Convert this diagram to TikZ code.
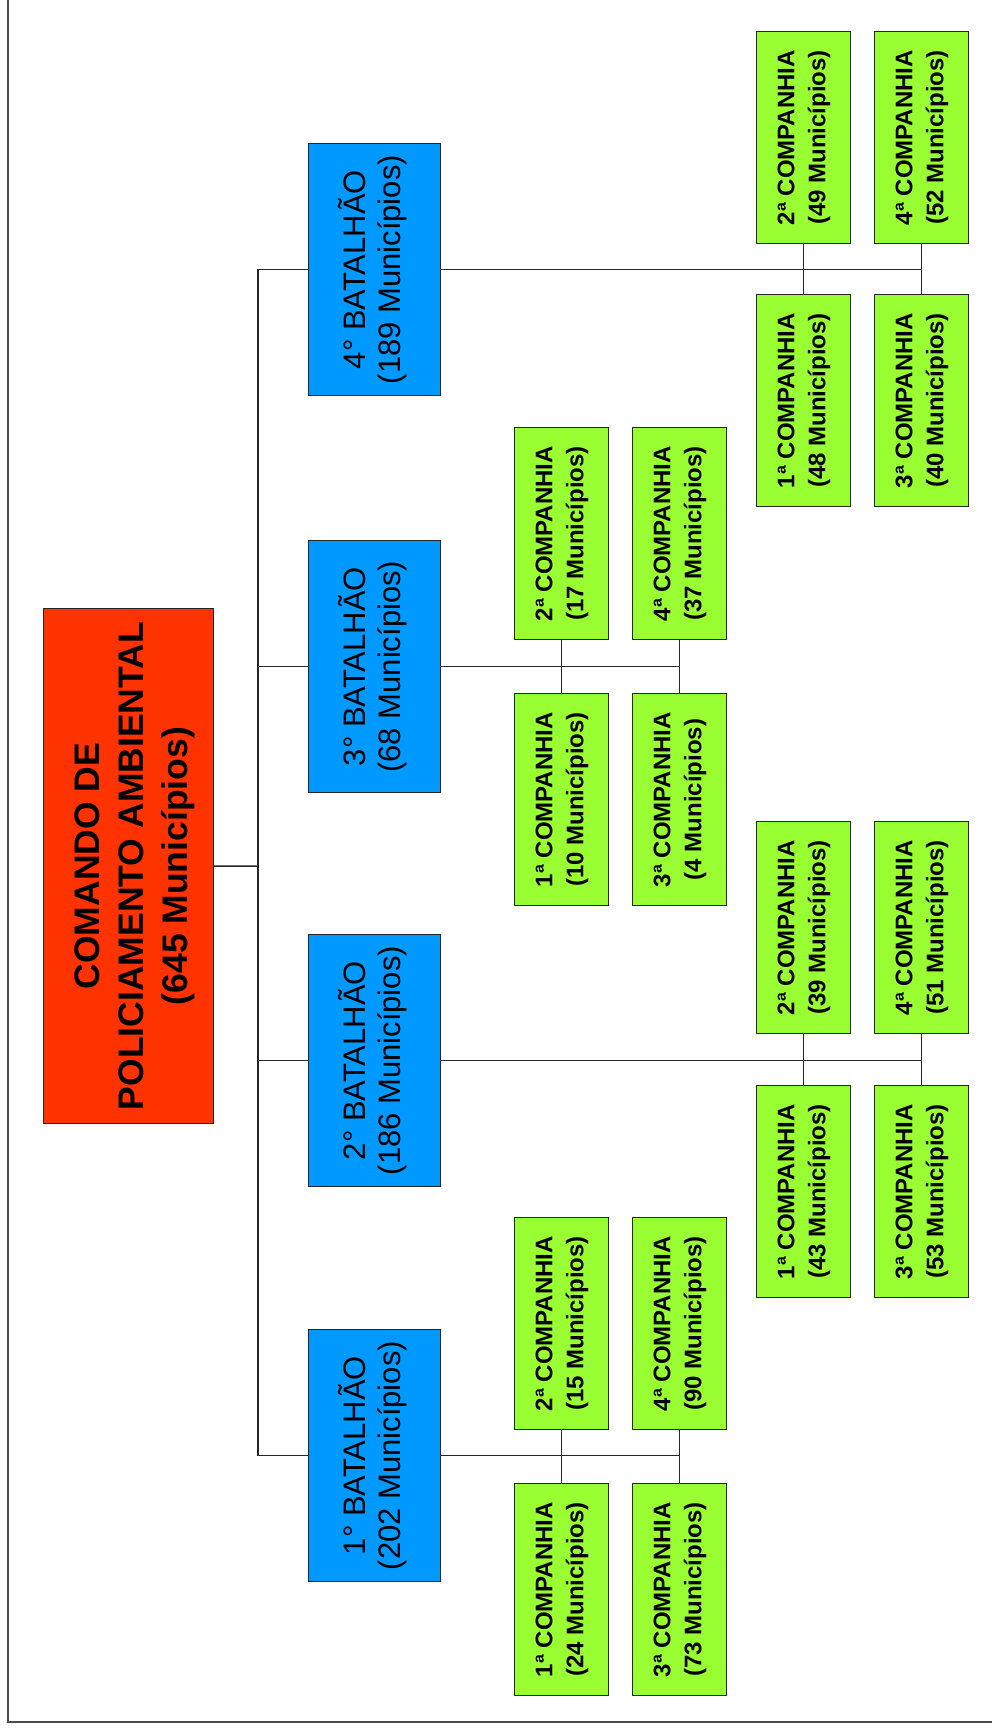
\documentclass[tikz,border=0pt]{standalone}
\usepackage{fontspec}
\setmainfont{Liberation Sans}
\definecolor{cmdred}{HTML}{FF3300}
\definecolor{batblue}{HTML}{0099FF}
\definecolor{compgreen}{HTML}{99FF33}
\definecolor{edge}{HTML}{262626}
\newcommand{\vlab}[4]{\rotatebox{90}{\fontsize{#1}{#2}\selectfont#3\begin{tabular}{@{}c@{}}#4\end{tabular}}}
\newcommand{\cmdtxt}[1]{\hspace*{12pt}\vlab{35.5}{44}{\bfseries}{#1}}
\newcommand{\battxt}[1]{\vlab{31}{35.5}{}{#1}}
\newcommand{\comptxt}[1]{\vlab{24}{31}{\bfseries}{#1}}
\tikzset{
  box/.style={draw=edge, line width=1.2pt, inner sep=0pt, anchor=north west},
  cmdbox/.style={box, fill=cmdred, minimum width=170pt, minimum height=515pt},
  batbox/.style={box, fill=batblue, minimum width=132pt, minimum height=252pt},
  compbox/.style={box, fill=compgreen, minimum width=94pt, minimum height=212pt},
  link/.style={draw=edge, line width=1.5pt},
  frameline/.style={draw=black!70, line width=1.8pt}
}
\begin{document}
\begin{tikzpicture}[x=1pt, y=-1pt]
\fill[white] (0,0) rectangle (992,1731);
\useasboundingbox (0,0) rectangle (992,1731);
\draw[frameline] (8,-5) -- (8,1722) -- (1000,1722);

% command
\node[cmdbox] (cmd) at (43,608) {\cmdtxt{COMANDO DE\\POLICIAMENTO AMBIENTAL\\(645 Municípios)}};

% battalions
\node[batbox] (b4) at (308,143) {\battxt{4° BATALHÃO\\(189 Municípios)}};
\node[batbox] (b3) at (308,540) {\battxt{3° BATALHÃO\\(68 Municípios)}};
\node[batbox] (b2) at (308,934) {\battxt{2° BATALHÃO\\(186 Municípios)}};
\node[batbox] (b1) at (308,1329) {\battxt{1° BATALHÃO\\(202 Municípios)}};

% companies of 4th battalion
\node[compbox] (g4c2) at (756,31) {\comptxt{2ª COMPANHIA\\(49 Municípios)}};
\node[compbox] (g4c1) at (756,294) {\comptxt{1ª COMPANHIA\\(48 Municípios)}};
\node[compbox] (g4c4) at (874,31) {\comptxt{4ª COMPANHIA\\(52 Municípios)}};
\node[compbox] (g4c3) at (874,294) {\comptxt{3ª COMPANHIA\\(40 Municípios)}};

% companies of 3rd battalion
\node[compbox] (g3c2) at (514,427) {\comptxt{2ª COMPANHIA\\(17 Municípios)}};
\node[compbox] (g3c1) at (514,693) {\comptxt{1ª COMPANHIA\\(10 Municípios)}};
\node[compbox] (g3c4) at (632,427) {\comptxt{4ª COMPANHIA\\(37 Municípios)}};
\node[compbox] (g3c3) at (632,693) {\comptxt{3ª COMPANHIA\\(4 Municípios)}};

% companies of 2nd battalion
\node[compbox] (g2c2) at (756,821) {\comptxt{2ª COMPANHIA\\(39 Municípios)}};
\node[compbox] (g2c1) at (756,1085) {\comptxt{1ª COMPANHIA\\(43 Municípios)}};
\node[compbox] (g2c4) at (874,821) {\comptxt{4ª COMPANHIA\\(51 Municípios)}};
\node[compbox] (g2c3) at (874,1085) {\comptxt{3ª COMPANHIA\\(53 Municípios)}};

% companies of 1st battalion
\node[compbox] (g1c2) at (514,1217) {\comptxt{2ª COMPANHIA\\(15 Municípios)}};
\node[compbox] (g1c1) at (514,1483) {\comptxt{1ª COMPANHIA\\(24 Municípios)}};
\node[compbox] (g1c4) at (632,1217) {\comptxt{4ª COMPANHIA\\(90 Municípios)}};
\node[compbox] (g1c3) at (632,1483) {\comptxt{3ª COMPANHIA\\(73 Municípios)}};

% trunk
\coordinate (t) at (258,866);
\draw[link] (cmd.east) -- (t);
\foreach \b in {b1,b2,b3,b4} {\draw[link] (\b.west) -| (t);}

% battalion to companies
\foreach \g/\b in {g1/b1,g2/b2,g3/b3,g4/b4} {
  \draw[link] (\b.east) -- (\b.east -| \g c3.north);
  \draw[link] (\g c2.south) -- (\g c1.north);
  \draw[link] (\g c4.south) -- (\g c3.north);
}
\end{tikzpicture}
\end{document}
